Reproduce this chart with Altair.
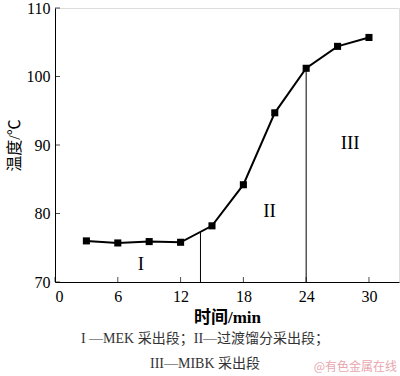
import altair as alt
import pandas as pd

time_min = [3, 6, 9, 12, 15, 18, 21, 24, 27, 30]
temperature = [76.0, 75.7, 75.9, 75.8, 78.2, 84.2, 94.7, 101.2, 104.4, 105.7]

boundary_x = [13.9, 24]
boundary_top = [77.3, 101.2]

region_labels = ["I", "II", "III"]
region_x = [8.2, 20.5, 28.2]
region_y = [72.6, 80.3, 90.3]

x_ticks = [0, 6, 12, 18, 24, 30]
y_ticks = [70, 80, 90, 100, 110]

caption_lines = ["I —MEK 采出段；II—过渡馏分采出段；", "III—MIBK 采出段"]
watermark = "@有色金属在线"

SERIF = "Liberation Serif, Noto Sans CJK SC"

df = pd.DataFrame({"t": time_min, "temp": temperature})
bd = pd.DataFrame({"x": boundary_x, "y0": [70] * len(boundary_x), "y1": boundary_top})
lab = pd.DataFrame({"label": region_labels, "x": region_x, "y": region_y})
xt = pd.DataFrame({"v": x_ticks})
yt = pd.DataFrame({"v": y_ticks})

xscale = alt.Scale(domain=[0, 32.87], nice=False)
yscale = alt.Scale(domain=[70, 110], nice=False)

xaxis = alt.Axis(values=x_ticks, title="时间/min", ticks=False, labelPadding=6,
                 labelFontSize=16, labelFont=SERIF, labelColor="black",
                 titleFontSize=17, titleFont=SERIF, titleFontWeight="bold",
                 titleColor="black", titlePadding=5, grid=False, domainColor="black")
yaxis = alt.Axis(values=y_ticks, title="温度/℃", ticks=False, labelPadding=5,
                 labelFontSize=16, labelFont=SERIF, labelColor="black",
                 titleFontSize=16, titleFont=SERIF, titleFontWeight="normal",
                 titleColor="black", titlePadding=4, grid=False, domainColor="black")

line = alt.Chart(df).mark_line(color="black", strokeWidth=2).encode(
    x=alt.X("t:Q", scale=xscale, axis=xaxis),
    y=alt.Y("temp:Q", scale=yscale, axis=yaxis),
)
pts = alt.Chart(df).mark_square(color="black", size=50, opacity=1).encode(
    x=alt.X("t:Q", scale=xscale), y=alt.Y("temp:Q", scale=yscale)
)
rules = alt.Chart(bd).mark_rule(color="black", strokeWidth=1).encode(
    x=alt.X("x:Q", scale=xscale), y=alt.Y("y0:Q", scale=yscale), y2="y1:Q"
)
labels = alt.Chart(lab).mark_text(font="Liberation Serif", fontSize=19, color="black").encode(
    x=alt.X("x:Q", scale=xscale), y=alt.Y("y:Q", scale=yscale), text="label:N"
)
xticks = alt.Chart(xt).mark_tick(color="black", size=5, thickness=1, orient="vertical").encode(
    x=alt.X("v:Q", scale=xscale), y=alt.value(271.5)
)
yticks = alt.Chart(yt).mark_tick(color="black", size=5, thickness=1, orient="horizontal").encode(
    y=alt.Y("v:Q", scale=yscale), x=alt.value(2.5)
)
cap_df = pd.DataFrame({"text": caption_lines, "yy": [331, 356]})
captions = alt.Chart(cap_df).mark_text(font=SERIF, fontSize=14, color="#333333").encode(
    x=alt.value(150), y=alt.Y("yy:Q", scale=None), text="text:N"
)
wm = alt.Chart(pd.DataFrame({"text": [watermark]})).mark_text(
    font="Noto Sans CJK SC", fontSize=12, color="#e8a6ae", align="right"
).encode(x=alt.value(342), y=alt.value(359), text="text:N")

chart = alt.layer(line, rules, pts, labels, xticks, yticks, captions, wm).properties(
    width=344, height=274,
    autosize=alt.AutoSizeParams(type="none"),
    padding={"left": 55, "top": 8, "right": 1, "bottom": 94},
).configure_view(stroke="black", strokeWidth=1).configure(background="white")

chart.save("out.html", embed_options={"renderer": "svg", "actions": False})
